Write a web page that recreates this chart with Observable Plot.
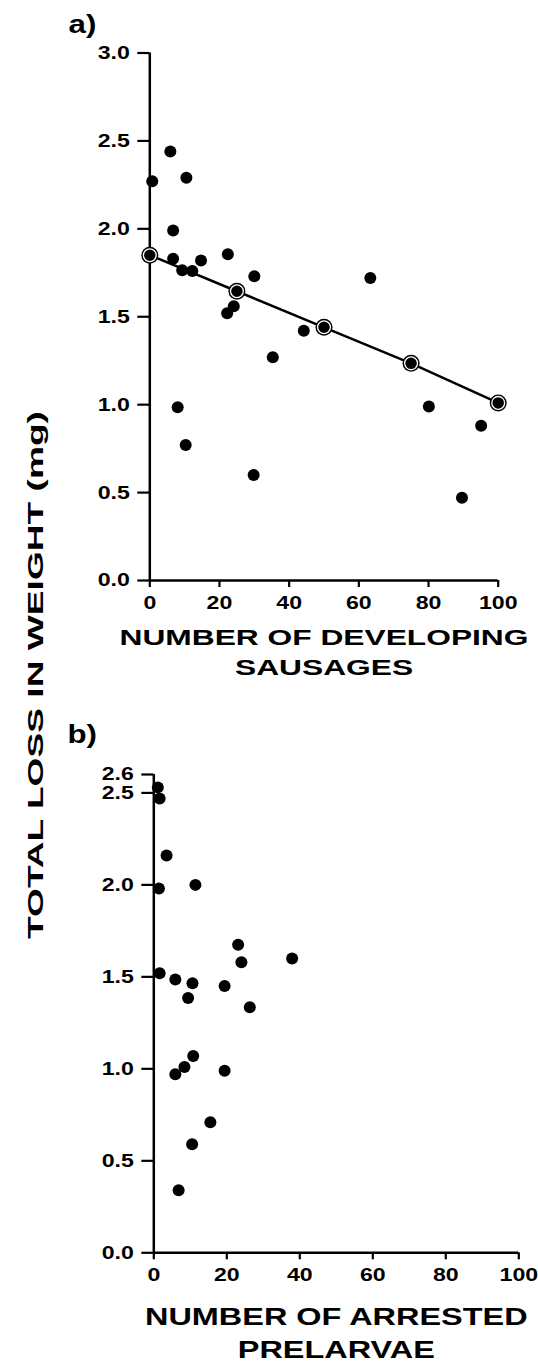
<!DOCTYPE html>
<html>
<head>
<meta charset="utf-8">
<script src="https://cdn.jsdelivr.net/npm/d3@7"></script>
<script src="https://cdn.jsdelivr.net/npm/@observablehq/plot@0.6"></script>
<style>
  body { margin: 0; background: #fff; }
  #figure { position: relative; width: 538px; height: 1370px; font-family: "Liberation Sans", Arial, sans-serif; font-weight: bold; color: #000; }
  #figure svg { position: absolute; left: 0; }
  #ytitle { position: absolute; left: 36px; top: 675px; font-size: 22.5px; white-space: nowrap;
            transform: translate(-50%, -50%) rotate(-90deg) scaleX(1.65); }
</style>
</head>
<body>
<div id="figure"><div id="ytitle">TOTAL LOSS IN WEIGHT (mg)</div></div>
<script>
// Panel a: weight loss against number of developing sausages
const sausagesA = [0.7, 5.9, 10.5, 6.7, 6.7, 9.3, 12.2, 14.7, 22.4, 30.0, 63.3, 22.2, 24.1, 44.2, 35.3, 80.1, 95.1, 8.0, 10.3, 29.8, 89.6];
const lossA     = [2.27, 2.44, 2.29, 1.99, 1.83, 1.765, 1.76, 1.82, 1.856, 1.73, 1.72, 1.52, 1.56, 1.42, 1.27, 0.99, 0.88, 0.985, 0.77, 0.60, 0.47];

// Fitted regression values (ringed markers on the line)
const fitX = [0, 25, 50, 75, 100];
const fitY = [1.85, 1.645, 1.44, 1.235, 1.01];

// Panel b: weight loss against number of arrested prelarvae
const arrestedB = [1.1, 1.6, 3.5, 1.4, 11.4, 1.6, 5.9, 10.6, 9.4, 19.4, 23.1, 24.0, 37.9, 26.3, 10.8, 8.4, 5.9, 19.4, 15.5, 10.5, 6.8];
const lossB     = [2.53, 2.47, 2.16, 1.98, 2.0, 1.52, 1.485, 1.465, 1.385, 1.45, 1.675, 1.58, 1.60, 1.335, 1.07, 1.01, 0.97, 0.99, 0.71, 0.59, 0.34];

// Axes
const xDomain = [0, 100];
const xTicks = [0, 20, 40, 60, 80, 100];
const yDomainA = [0, 3];
const yTicksA = [0, 0.5, 1, 1.5, 2, 2.5, 3];
const yDomainB = [0, 2.6];
const yTicksB = [0, 0.5, 1, 1.5, 2, 2.5, 2.6];

const titleA = "NUMBER OF DEVELOPING\nSAUSAGES";
const titleB = "NUMBER OF ARRESTED\nPRELARVAE";
const panelLabels = ["a)", "b)"];

const FONT = '"Liberation Sans", Arial, Helvetica, sans-serif';
const fmt = d3.format(".1f");

const pointsA = sausagesA.map((x, i) => ({x, y: lossA[i]}));
const fitted = fitX.map((x, i) => ({x, y: fitY[i]}));
const pointsB = arrestedB.map((x, i) => ({x, y: lossB[i]}));

// Widen glyphs horizontally with textLength (the lettering is a wide bold face)
function widen(el, sx) {
  const w = el.getComputedTextLength();
  if (w > 0) {
    el.setAttribute("textLength", (w * sx).toFixed(2));
    el.setAttribute("lengthAdjust", "spacingAndGlyphs");
  }
}
function stretchAll(svg) {
  svg.querySelectorAll("text").forEach(t => {
    const s = t.textContent;
    let sx = null;
    if (/NUMBER/.test(s)) sx = 1.41;
    else if (/\)$/.test(s)) sx = 1.25;
    else if (/^[0-9.]+$/.test(s)) sx = 1.25;
    if (sx == null) return;
    const spans = t.querySelectorAll("tspan");
    if (spans.length) spans.forEach(sp => widen(sp, sx));
    else widen(t, sx);
  });
}

function axesMarks(yDomain, yTicks) {
  return [
    Plot.ruleY([0], {x1: xDomain[0], x2: xDomain[1], stroke: "black", strokeWidth: 2.5}),
    Plot.ruleX([0], {y1: yDomain[0], y2: yDomain[1], stroke: "black", strokeWidth: 2.5}),
    Plot.axisY({ticks: yTicks, tickFormat: fmt, tickSize: 12, tickPadding: 8, strokeWidth: 2.2,
                fontSize: 18.5, fontWeight: "bold", fontFamily: FONT, fill: "black", label: null}),
    Plot.axisX({ticks: xTicks, tickFormat: d => d, tickSize: 7, tickPadding: 8, strokeWidth: 2.2,
                fontSize: 18.5, fontWeight: "bold", fontFamily: FONT, fill: "black", label: null})
  ];
}

const commonStyle = {background: "transparent", overflow: "visible", fontFamily: FONT, fontWeight: "bold", color: "black"};

const panelA = Plot.plot({
  width: 538, height: 700,
  marginLeft: 149.3, marginRight: 40.3, marginTop: 52.5, marginBottom: 120,
  style: commonStyle,
  x: {domain: xDomain},
  y: {domain: yDomainA},
  marks: [
    ...axesMarks(yDomainA, yTicksA),
    Plot.line(fitted, {x: "x", y: "y", stroke: "black", strokeWidth: 2.5}),
    Plot.dot(pointsA, {x: "x", y: "y", r: 6, fill: "black"}),
    Plot.dot(fitted, {x: "x", y: "y", r: 8.5, fill: "black"}),
    Plot.dot(fitted, {x: "x", y: "y", r: 6.4, fill: "none", stroke: "white", strokeWidth: 1.3}),
    Plot.text([panelLabels[0]], {frameAnchor: "top-left", textAnchor: "start", lineAnchor: "middle",
      dx: -81.3, dy: -28.5, fontSize: 25, fontWeight: "bold", fontFamily: FONT, fill: "black"}),
    Plot.text([titleA], {frameAnchor: "bottom", lineAnchor: "middle", dy: 70, lineHeight: 1.33,
      fontSize: 22.5, fontWeight: "bold", fontFamily: FONT, fill: "black"})
  ]
});

const panelB = Plot.plot({
  width: 538, height: 670,
  marginLeft: 153.3, marginRight: 19.7, marginTop: 74, marginBottom: 117.7,
  style: commonStyle,
  x: {domain: xDomain},
  y: {domain: yDomainB},
  marks: [
    ...axesMarks(yDomainB, yTicksB),
    Plot.dot(pointsB, {x: "x", y: "y", r: 6, fill: "black"}),
    Plot.text([panelLabels[1]], {frameAnchor: "top-left", textAnchor: "start", lineAnchor: "middle",
      dx: -86.3, dy: -40, fontSize: 25, fontWeight: "bold", fontFamily: FONT, fill: "black"}),
    Plot.text([titleB], {frameAnchor: "bottom", lineAnchor: "middle", dy: 78.5, lineHeight: 1.42,
      fontSize: 23, fontWeight: "bold", fontFamily: FONT, fill: "black"})
  ]
});

panelA.style.top = "0px";
panelB.style.top = "700px";
const fig = document.getElementById("figure");
fig.appendChild(panelA);
fig.appendChild(panelB);
stretchAll(panelA);
stretchAll(panelB);
</script>
</body>
</html>
